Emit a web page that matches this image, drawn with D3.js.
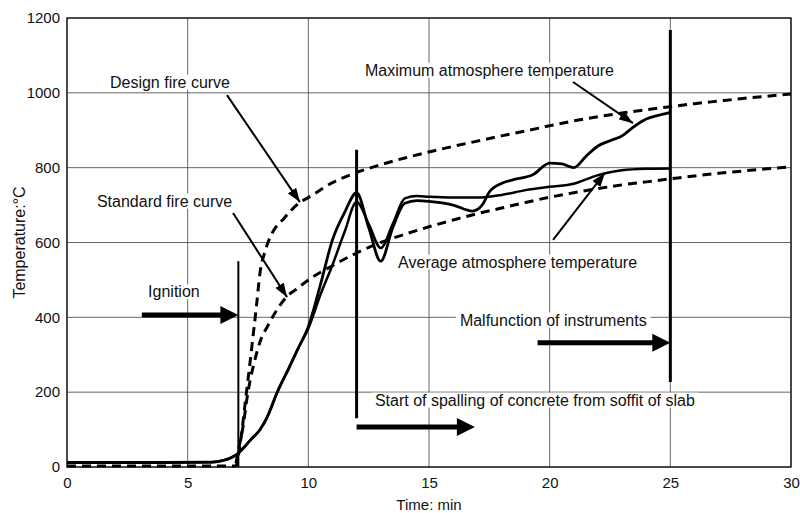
<!DOCTYPE html>
<meta charset="utf-8">
<style>
    body {margin: 0; background: #fff;}
    svg {font-family: 'Liberation Sans', Arial, sans-serif;}
</style>
<body>
<svg width="800" height="513"></svg>
<script src="https://d3js.org/d3.v7.min.js"></script>
<script>

// ---- data (time in min, temperature in °C) ----
var timeTicks = [0, 5, 10, 15, 20, 25, 30];
var tempTicks = [0, 200, 400, 600, 800, 1000, 1200];

var designFire = [[0,3],[7.0,3],[7.1,30],[7.2,72],[7.4,180],[7.55,260],[7.7,345],[7.85,430],
  [8.0,520],[8.2,575],[8.5,625],[9.0,665],[9.6,705],[10,720],[11,760],[12,787],[13,808],
  [14,826],[15,842],[16,857],[17,871],[18,885],[19,898],[20,912],[21,925],[22,936],
  [23,946],[24,955],[25,963],[26,971],[27,978],[28,985],[29,991],[30,997]];

var standardFire = [[7.0,10],[7.15,60],[7.3,110],[7.45,180],[7.6,235],[7.8,290],[8.0,335],
  [8.3,375],[8.7,420],[9.1,455],[9.5,475],[10,500],[11,538],[12,572],[13,600],[14,622],
  [15,642],[16,660],[17,677],[18,692],[19,707],[20,721],[21,733],[22,744],[23,754],
  [24,762],[25,770],[26,778],[27,785],[28,791],[29,797],[30,802]];

var maxAtmos = [[0,12],[2,12],[4,12],[6,13],[6.5,18],[6.8,25],[7,32],[7.3,50],[7.6,72],[8,100],
  [8.3,134],[8.7,198],[9.2,265],[9.6,320],[10,375],[10.5,487],[11,607],[11.5,680],[12,733],
  [12.5,640],[13,550],[13.5,640],[14,705],[14.5,712],[15,710],[16,700],[16.8,684],[17.2,700],
  [17.5,735],[18,758],[18.5,768],[19.3,781],[20,812],[20.5,810],[21,800],[21.5,830],[22,858],
  [22.5,872],[23,885],[23.5,910],[24,930],[24.5,940],[25,948]];

var avgAtmos = [[0,12],[2,12],[4,12],[6,13],[6.5,18],[6.8,25],[7,32],[7.3,50],[7.6,72],[8,100],
  [8.3,134],[8.7,198],[9.2,265],[9.6,320],[10,370],[10.5,460],[11,540],[11.5,628],[12,708],
  [12.5,650],[13,585],[13.5,650],[14,718],[14.5,724],[15,722],[16,720],[17,720],[18,727],
  [19,740],[20,749],[21,757],[22,780],[22.5,788],[23,793],[24,797],[25,798]];

// vertical event lines: time, lower and upper temperature
var eventLines = [[7.1, 0, 550], [12, 130, 848], [25, 227, 1168]];
// thick horizontal arrows: from time, to time, temperature
var eventArrows = [[3.1, 7.1, 406], [12, 16.9, 107], [19.5, 25, 332]];

var labels = [
  {text: "Design fire curve", t: 1.78, T: 1029},
  {text: "Standard fire curve", t: 1.24, T: 711},
  {text: "Maximum atmosphere temperature", t: 12.35, T: 1061},
  {text: "Average atmosphere temperature", t: 13.72, T: 548},
  {text: "Ignition", t: 3.36, T: 468},
  {text: "Malfunction of instruments", t: 16.28, T: 393},
  {text: "Start of spalling of concrete from soffit of slab", t: 12.76, T: 179}
];
// pointer arrows: [t0, T0, t1, T1]
var pointers = [[6.63, 994, 9.65, 708], [6.88, 679, 9.12, 454],
  [20.97, 1029, 23.45, 919], [20.14, 607, 22.29, 786]];

var svg = d3.select("svg"),
    margin = {top: 18, right: 9, bottom: 46, left: 67},
    width = +svg.attr("width") - margin.left - margin.right,
    height = +svg.attr("height") - margin.top - margin.bottom;

var g = svg.append("g").attr("transform", "translate(" + margin.left + "," + margin.top + ")");

var x = d3.scaleLinear().domain([0, 30]).range([0, width]);
var y = d3.scaleLinear().domain([0, 1200]).range([height, 0]);

svg.append("defs").append("marker")
    .attr("id", "head")
    .attr("markerUnits", "userSpaceOnUse")
    .attr("viewBox", "0 0 14 10")
    .attr("refX", 14).attr("refY", 5)
    .attr("markerWidth", 14).attr("markerHeight", 10)
    .attr("orient", "auto")
  .append("path").attr("d", "M0,0L14,5L0,10Z").attr("fill", "#000");

// grid
g.append("g").selectAll("line").data(timeTicks).enter().append("line")
    .attr("x1", d => x(d)).attr("x2", d => x(d))
    .attr("y1", 0).attr("y2", height)
    .style("stroke", "#555").style("stroke-width", "0.9px");
g.append("g").selectAll("line").data(tempTicks).enter().append("line")
    .attr("x1", 0).attr("x2", width)
    .attr("y1", d => y(d)).attr("y2", d => y(d))
    .style("stroke", "#555").style("stroke-width", "0.9px");

// axes (labels only)
var xAxis = g.append("g").attr("transform", "translate(0," + height + ")")
    .call(d3.axisBottom(x).tickValues(timeTicks).tickSize(0).tickPadding(10));
var yAxis = g.append("g")
    .call(d3.axisLeft(y).tickValues(tempTicks).tickFormat(d3.format("d")).tickSize(0).tickPadding(7));
[xAxis, yAxis].forEach(function(a) {
  a.select(".domain").remove();
  a.selectAll("text").style("font-size", "15px").style("font-family", "'Liberation Sans', Arial, sans-serif").attr("fill", "#111");
});

// labels with white background (they cut the grid)
var lab = g.append("g").selectAll("g").data(labels).enter().append("g");
lab.append("rect").attr("fill", "#fff");
lab.append("text")
    .attr("x", d => x(d.t)).attr("y", d => y(d.T))
    .attr("dy", "0.35em")
    .style("font-size", "16px").attr("fill", "#111")
    .text(d => d.text);
lab.each(function() {
  var b = d3.select(this).select("text").node().getBBox();
  d3.select(this).select("rect")
      .attr("x", b.x - 4).attr("y", b.y + 1).attr("width", b.width + 8).attr("height", b.height - 2);
});

// frame
g.append("rect").attr("width", width).attr("height", height)
    .attr("fill", "none").style("stroke", "#111").style("stroke-width", "1.3px");

var line = d3.line().x(d => x(d[0])).y(d => y(d[1])).curve(d3.curveMonotoneX);

g.append("path").datum(designFire).attr("d", line)
    .attr("fill", "none").style("stroke", "#000").style("stroke-width", "3px")
    .style("stroke-dasharray", "9,6");
g.append("path").datum(standardFire).attr("d", line)
    .attr("fill", "none").style("stroke", "#000").style("stroke-width", "3px")
    .style("stroke-dasharray", "9,6");
g.append("path").datum(avgAtmos).attr("d", line)
    .attr("fill", "none").style("stroke", "#000").style("stroke-width", "2.5px");
g.append("path").datum(maxAtmos).attr("d", line)
    .attr("fill", "none").style("stroke", "#000").style("stroke-width", "2.8px");

// event lines
g.append("g").selectAll("line").data(eventLines).enter().append("line")
    .attr("x1", d => x(d[0])).attr("x2", d => x(d[0]))
    .attr("y1", d => y(d[1])).attr("y2", d => y(d[2]))
    .style("stroke", "#000").style("stroke-width", (d, i) => i === 0 ? "2px" : "3px");

// thick arrows
var big = g.append("g").selectAll("g").data(eventArrows).enter().append("g");
big.append("line")
    .attr("x1", d => x(d[0])).attr("x2", d => x(d[1]) - 14)
    .attr("y1", d => y(d[2])).attr("y2", d => y(d[2]))
    .style("stroke", "#000").style("stroke-width", "5px");
big.append("path")
    .attr("d", function(d) {
      var xe = x(d[1]), yy = y(d[2]);
      return "M" + xe + "," + yy + "L" + (xe - 18) + "," + (yy - 9) + "L" + (xe - 18) + "," + (yy + 9) + "Z";
    })
    .attr("fill", "#000");

// pointer arrows
g.append("g").selectAll("line").data(pointers).enter().append("line")
    .attr("x1", d => x(d[0])).attr("y1", d => y(d[1]))
    .attr("x2", d => x(d[2])).attr("y2", d => y(d[3]))
    .style("stroke", "#000").style("stroke-width", "2px")
    .attr("marker-end", "url(#head)");

// axis titles
svg.append("text")
    .attr("transform", "translate(19," + (margin.top + y(600)) + ") rotate(-90)")
    .attr("text-anchor", "middle").attr("dy", "0.35em")
    .style("font-size", "16px").attr("fill", "#111")
    .text("Temperature:°C");
svg.append("text")
    .attr("x", margin.left + x(15)).attr("y", 505)
    .attr("text-anchor", "middle").attr("dy", "0.35em")
    .style("font-size", "15px").attr("fill", "#111")
    .text("Time: min");

</script>
</body>
